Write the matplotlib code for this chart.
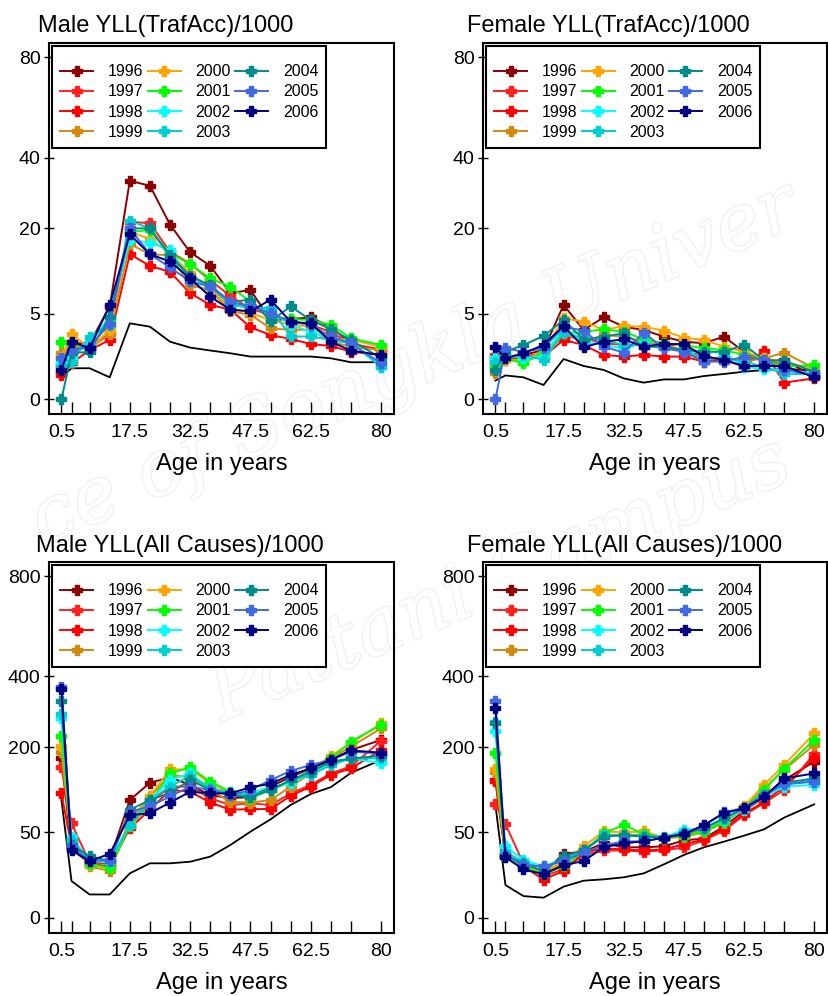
import numpy as np
import matplotlib.pyplot as plt
import matplotlib.patheffects as pe

plt.rcParams['font.family'] = ['Liberation Sans', 'DejaVu Sans']

# age groups (x) and the labelled ones
ages = [0.5, 3, 7.5, 12.5, 17.5, 22.5, 27.5, 32.5, 37.5, 42.5, 47.5, 52.5, 57.5, 62.5, 67.5, 72.5, 80]
age_labels = ['0.5', '', '', '', '17.5', '', '', '32.5', '', '', '47.5', '', '', '62.5', '', '', '80']
years = ['1996', '1997', '1998', '1999', '2000', '2001', '2002', '2003', '2004', '2005', '2006']
colors = ['#8b0000', '#ff2020', '#ff0000', '#d08a10', '#ffa500', '#00ff00',
          '#00ffff', '#00ced1', '#008b8b', '#4169e1', '#000080']

# Male YLL, traffic accidents (per 1000), one row per year
male_traf = [
    [0.81, 2.14, 2.14, 5.87, 32.7, 31.2, 20.9, 14.8, 12.2, 7.7, 8.2, 4.3, 4.4, 4.6, 3.55, 2.15, 1.6],
    [0.52, 1.55, 1.9, 2.98, 21.6, 21.2, 14.9, 12.6, 9.7, 7.3, 5.6, 4.9, 4.2, 3.8, 3.1, 2.1, 1.7],
    [0.41, 0.89, 1.66, 2.41, 14.4, 12.2, 11.1, 7.7, 6.1, 5.5, 3.55, 2.83, 2.49, 2.09, 1.95, 1.55, 1.34],
    [1.45, 1.9, 1.78, 2.89, 16.5, 14.4, 14.2, 8.9, 8.2, 5.3, 4.9, 3.45, 3.3, 3.3, 2.27, 1.9, 1.66],
    [1.2, 2.92, 1.78, 3.29, 19.2, 17.6, 14.6, 10.9, 8.4, 5.7, 5.1, 4.3, 3.8, 3.6, 2.55, 2.41, 1.9],
    [2.27, 2.14, 1.78, 4.3, 19.2, 19.6, 14.6, 12.5, 10.0, 8.7, 6.5, 4.7, 4.4, 4.3, 3.8, 2.55, 2.02],
    [0.89, 1.25, 2.14, 4.67, 17.4, 16.8, 15.3, 9.5, 8.9, 6.3, 5.9, 5.3, 3.8, 3.1, 2.55, 2.27, 0.73],
    [0.73, 0.97, 2.69, 3.78, 21.8, 20.0, 13.9, 10.3, 8.7, 6.1, 5.7, 5.7, 2.7, 2.7, 2.41, 2.15, 0.73],
    [0.0, 1.45, 1.55, 4.67, 20.0, 20.0, 14.2, 10.4, 8.9, 6.5, 6.8, 4.2, 5.9, 4.3, 3.35, 2.41, 1.15],
    [1.15, 1.66, 1.9, 3.88, 20.0, 14.4, 11.9, 9.5, 8.7, 6.5, 5.9, 5.1, 4.1, 3.8, 2.69, 2.15, 0.89],
    [0.59, 2.27, 1.78, 6.09, 18.6, 14.4, 13.0, 10.0, 7.2, 5.5, 5.3, 6.8, 4.1, 3.95, 2.27, 1.62, 1.34],
]
male_traf_ref = [0.33, 0.66, 0.66, 0.33, 3.95, 3.61, 2.27, 1.83, 1.63, 1.45, 1.25, 1.25, 1.25, 1.25, 1.15, 0.94, 0.94]

# Female YLL, traffic accidents (per 1000)
female_traf = [
    [1.15, 1.25, 1.35, 1.66, 6.09, 3.29, 4.6, 3.61, 3.29, 2.69, 2.27, 2.15, 2.69, 1.55, 0.97, 1.06, 0.35],
    [1.35, 1.15, 1.25, 1.45, 2.69, 2.55, 2.15, 2.02, 2.02, 1.9, 2.15, 1.06, 1.15, 1.06, 1.15, 0.76, 0.35],
    [0.89, 1.06, 1.15, 1.25, 2.41, 2.02, 1.35, 1.25, 1.35, 1.25, 1.25, 0.97, 1.06, 0.73, 1.6, 0.19, 0.30],
    [0.46, 1.06, 0.97, 1.35, 2.98, 2.27, 2.83, 2.69, 2.27, 2.02, 1.66, 1.06, 1.25, 0.97, 1.15, 1.49, 0.66],
    [0.97, 1.06, 1.06, 1.55, 4.49, 4.13, 3.29, 3.68, 3.61, 3.23, 2.6, 2.41, 1.9, 1.55, 1.15, 0.92, 0.66],
    [0.73, 1.15, 0.89, 1.55, 2.98, 3.13, 3.35, 3.13, 2.46, 2.15, 2.02, 1.78, 1.66, 1.35, 1.06, 0.73, 0.80],
    [1.15, 1.35, 1.15, 1.25, 3.55, 2.27, 2.02, 1.78, 2.15, 1.9, 1.55, 1.55, 1.49, 0.73, 0.62, 0.59, 0.46],
    [0.97, 1.15, 1.35, 1.06, 2.98, 2.55, 2.41, 2.02, 2.02, 1.78, 1.66, 1.15, 1.15, 0.97, 0.73, 0.44, 0.44],
    [0.59, 1.55, 2.02, 2.74, 4.31, 2.41, 2.69, 2.98, 1.9, 1.9, 1.66, 1.55, 1.55, 2.02, 1.06, 1.02, 0.52],
    [0.0, 1.78, 1.55, 1.78, 3.61, 3.23, 1.9, 1.49, 3.04, 1.78, 1.55, 0.97, 0.97, 1.25, 1.06, 0.59, 0.40],
    [1.85, 1.15, 1.45, 2.02, 3.68, 1.85, 2.27, 2.46, 1.9, 2.09, 2.09, 1.28, 1.06, 0.76, 0.76, 0.76, 0.33],
]
female_traf_ref = [0.24, 0.39, 0.33, 0.14, 1.11, 0.76, 0.59, 0.30, 0.19, 0.27, 0.27, 0.37, 0.44, 0.52, 0.59, 0.62, 0.59]

# Male YLL, all causes (per 1000)
male_all = [
    [174, 33, 20, 23, 95, 125, 135, 121, 103, 98, 100, 118, 136, 153, 171, 193, 217],
    [155, 61, 21, 20, 57, 90, 118, 118, 98, 87, 90, 87, 106, 121, 143, 157, 215],
    [106, 35, 20, 18, 55, 80, 112, 109, 91, 80, 81, 81, 102, 118, 140, 153, 193],
    [189, 40, 18, 15, 61, 100, 140, 135, 112, 92, 91, 95, 118, 143, 174, 201, 246],
    [202, 41, 19, 17, 66, 101, 151, 151, 124, 106, 100, 112, 127, 150, 180, 209, 259],
    [227, 38, 20, 17, 58, 90, 143, 155, 127, 109, 98, 112, 127, 150, 174, 213, 255],
    [275, 45, 22, 21, 59, 95, 130, 143, 115, 106, 106, 118, 124, 143, 164, 174, 164],
    [285, 41, 23, 22, 59, 95, 118, 138, 115, 107, 103, 112, 130, 140, 160, 174, 174],
    [323, 36, 26, 22, 80, 95, 107, 130, 112, 103, 100, 112, 130, 146, 167, 174, 180],
    [366, 35, 22, 23, 77, 85, 101, 118, 112, 103, 112, 130, 148, 160, 171, 189, 185],
    [358, 31, 22, 28, 72, 75, 91, 109, 106, 106, 117, 123, 140, 153, 171, 192, 187],
]
male_all_ref = [95, 9.2, 3.7, 3.7, 13.5, 20.3, 20.3, 21.5, 25.6, 36.3, 50.8, 66.4, 87.2, 105, 117, 144, 171]

# Female YLL, all causes (per 1000)
female_all = [
    [130, 26, 19, 14, 28, 30, 38, 34, 34, 35, 41, 43, 57, 78, 100, 130, 167],
    [88, 60, 20, 12, 16, 27, 31, 31, 30, 31, 34, 41, 52, 72, 90, 112, 184],
    [129, 26, 18, 10, 15, 29, 33, 32, 31, 32, 37, 42, 54, 74, 92, 118, 175],
    [146, 27, 19, 13, 21, 32, 46, 46, 48, 43, 45, 50, 62, 82, 115, 150, 205],
    [152, 28, 18, 14, 22, 35, 51, 50, 51, 44, 47, 52, 64, 85, 121, 160, 233],
    [187, 25, 18, 13, 18, 30, 49, 59, 48, 44, 46, 51, 63, 82, 112, 152, 217],
    [238, 35, 23, 18, 24, 31, 47, 47, 45, 44, 53, 55, 66, 80, 100, 118, 121],
    [262, 30, 21, 17, 23, 31, 47, 47, 46, 45, 50, 54, 67, 82, 102, 122, 130],
    [259, 27, 20, 15, 26, 31, 45, 47, 45, 44, 48, 55, 68, 82, 104, 125, 133],
    [323, 27, 19, 18, 22, 29, 36, 40, 40, 44, 48, 58, 76, 83, 104, 122, 127],
    [301, 25, 16, 13, 19, 22, 34, 38, 40, 44, 48, 59, 75, 82, 100, 133, 143],
]
female_all_ref = [87, 7.3, 3.2, 2.75, 6.6, 9.4, 10.1, 11.2, 13.5, 19.5, 27, 34, 39.7, 46.2, 53.6, 68.7, 88.2]

traf_ticks = [0, 5, 20, 40, 80]
all_ticks = [0, 50, 200, 400, 800]


def fwd(v):
    v = np.asarray(v, dtype=float)
    return np.sign(v) * np.sqrt(np.abs(v))


def inv(v):
    v = np.asarray(v, dtype=float)
    return np.sign(v) * v ** 2


W, H = 829, 996
fig = plt.figure(figsize=(W / 100, H / 100), dpi=100)

# faint watermark behind everything (only the part that shows in the picture)
wm_style = dict(fontsize=56, family='DejaVu Serif', style='italic', color='white',
                ha='center', va='center', zorder=-5, rotation=23,
                path_effects=[pe.withStroke(linewidth=1.6, foreground='#eeeeee')])
fig.text(414 / W, 1 - 365 / H, 'ce of Songkla Univer', **wm_style)
fig.text(500 / W, 1 - 580 / H, 'Pattani Campus', **wm_style)


def panel(rect, title, title_xy, series, ref, yticks, ylim):
    ax = fig.add_axes([rect[0] / W, 1 - rect[3] / H, (rect[2] - rect[0]) / W, (rect[3] - rect[1]) / H])
    ax.set_facecolor('none')
    ax.set_yscale('function', functions=(fwd, inv))
    ax.plot(ages, ref, color='black', lw=1.3)
    for yr, col, vals in zip(years, colors, series):
        ax.plot(ages, vals, color=col, lw=1.4, marker='P', ms=6.5, label=yr)
    ax.set_xlim(-2.6, 83.2)
    ax.set_ylim(*ylim)
    ax.set_xticks(ages)
    ax.set_xticklabels(age_labels)
    ax.set_yticks(yticks)
    ax.set_yticklabels([str(t) for t in yticks])
    ax.tick_params(axis='x', direction='in', length=9, width=1, pad=7, labelsize=14)
    ax.tick_params(axis='y', direction='inout', length=7.5, width=1, pad=2.3, labelsize=14)
    for s in ax.spines.values():
        s.set_linewidth(1.5)
    ax.set_xlabel('Age in years', fontsize=17)
    ax.xaxis.set_label_coords(0.5, -56 / (rect[3] - rect[1]))
    ax.xaxis.label.set_va('baseline')
    leg = ax.legend(ncol=3, loc='upper left', bbox_to_anchor=(0.009, 0.992), borderaxespad=0,
                    fontsize=11.5, handlelength=2.06, handletextpad=0.94, columnspacing=0.25,
                    labelspacing=0.33, borderpad=0.5, fancybox=False, edgecolor='black',
                    framealpha=1, title=' ', title_fontsize=4)
    leg.get_frame().set_linewidth(1.5)
    fig.text(title_xy[0] / W, 1 - title_xy[1] / H, title, fontsize=17, va='baseline', ha='left')
    return ax


top_ylim = (-0.148, 86.9)
bot_ylim = (-1.61, 868.5)

panel((49, 43, 394, 414), 'Male YLL(TrafAcc)/1000', (38, 32), male_traf, male_traf_ref, traf_ticks, top_ylim)
panel((483, 43, 827, 414), 'Female YLL(TrafAcc)/1000', (467, 32), female_traf, female_traf_ref, traf_ticks, top_ylim)
panel((49, 562, 394, 933), 'Male YLL(All Causes)/1000', (36, 552), male_all, male_all_ref, all_ticks, bot_ylim)
panel((483, 562, 827, 933), 'Female YLL(All Causes)/1000', (467, 552), female_all, female_all_ref, all_ticks, bot_ylim)

fig.savefig('out.png', dpi=100)
